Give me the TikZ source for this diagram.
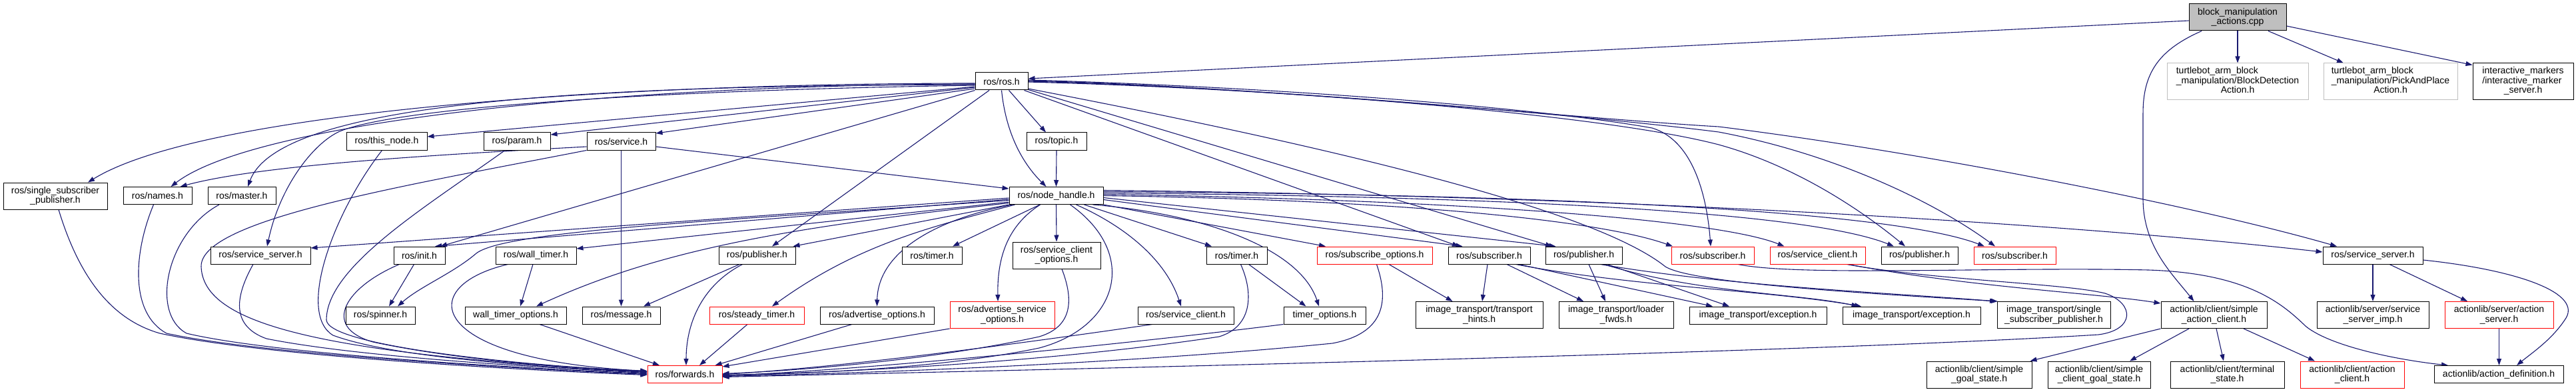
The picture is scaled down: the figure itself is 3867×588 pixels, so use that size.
\documentclass[tikz,border=0pt]{standalone}
\usepackage{fontspec}
\setmainfont{Liberation Sans}
\usetikzlibrary{arrows.meta}
\definecolor{edgeblue}{HTML}{191970}
\definecolor{redb}{HTML}{FF0000}
\definecolor{greyb}{HTML}{BFBFBF}
\pgfdeclarelayer{bg}
\pgfsetlayers{bg,main}
\tikzset{
  nd/.style={draw=black, line width=1pt, fill=white, inner sep=0pt, align=center,
    font=\fontsize{14}{14.5}\selectfont, minimum height=26pt},
  trunc/.style={nd, draw=redb},
  nodoc/.style={nd, draw=greyb},
  dep/.style={draw=edgeblue, line width=1.1pt, -{Triangle[length=10pt,width=7pt]}}
}
\begin{document}
\begin{tikzpicture}[x=1pt,y=-1pt]
\useasboundingbox (0,0) rectangle (3867,588);
% ---------- row 0/1
\node[nd,minimum width=146pt,minimum height=40pt,fill=greyb] (cpp) at (3359,26) {block\_manipulation\\\_actions.cpp};
\node[nodoc,minimum width=212pt,minimum height=55pt] (bd) at (3359,122.5) {\begin{tabular}{@{}l@{}}turtlebot\_arm\_block\\\_manipulation/BlockDetection\\\multicolumn{1}{@{}c@{}}{Action.h}\end{tabular}};
\node[nodoc,minimum width=201pt,minimum height=55pt] (pp) at (3588.5,122.5) {\begin{tabular}{@{}l@{}}turtlebot\_arm\_block\\\_manipulation/PickAndPlace\\\multicolumn{1}{@{}c@{}}{Action.h}\end{tabular}};
\node[nd,minimum width=151pt,minimum height=55pt] (im) at (3787.5,122.5) {\begin{tabular}{@{}l@{}}interactive\_markers\\/interactive\_marker\\\multicolumn{1}{@{}c@{}}{\_server.h}\end{tabular}};
\node[nd,minimum width=79pt] (ros) at (1503.5,122) {ros/ros.h};
% ---------- row 2
\node[nd,minimum width=121pt] (thisnode) at (580.5,212) {ros/this\_node.h};
\node[nd,minimum width=100pt] (param) at (776,212) {ros/param.h};
\node[nd,minimum width=103pt] (service) at (932.5,212) {ros/service.h};
\node[nd,minimum width=90pt] (topic) at (1586,212) {ros/topic.h};
% ---------- row 3
\node[nd,minimum width=156pt,minimum height=40pt] (ssp) at (83,294) {ros/single\_subscriber\\\_publisher.h};
\node[nd,minimum width=103pt] (names) at (236.5,293.5) {ros/names.h};
\node[nd,minimum width=102pt] (master) at (363,293.5) {ros/master.h};
\node[nd,minimum width=141pt] (nh) at (1585.5,293.5) {ros/node\_handle.h};
% ---------- row 4
\node[nd,minimum width=150pt] (ssl) at (391,383) {ros/service\_server.h};
\node[nd,minimum width=77pt] (init) at (629.5,383) {ros/init.h};
\node[nd,minimum width=121pt] (walltimer) at (804.5,383) {ros/wall\_timer.h};
\node[nd,minimum width=115pt] (pub1) at (1136.5,383) {ros/publisher.h};
\node[nd,minimum width=90pt] (timer1) at (1399,383) {ros/timer.h};
\node[nd,minimum width=132pt,minimum height=40pt] (sco) at (1586,383) {ros/service\_client\\\_options.h};
\node[nd,minimum width=91pt] (timer2) at (1856.5,383) {ros/timer.h};
\node[trunc,minimum width=173pt] (subopts) at (2063.5,383) {ros/subscribe\_options.h};
\node[nd,minimum width=123pt] (sub1) at (2235.5,383) {ros/subscriber.h};
\node[nd,minimum width=115pt] (pub2) at (2377.5,383) {ros/publisher.h};
\node[trunc,minimum width=124pt] (sub2) at (2571,383) {ros/subscriber.h};
\node[trunc,minimum width=143pt] (scr) at (2728.5,383) {ros/service\_client.h};
\node[nd,minimum width=115pt] (pub3) at (2881.5,383) {ros/publisher.h};
\node[trunc,minimum width=123pt] (sub3) at (3024.5,383) {ros/subscriber.h};
\node[nd,minimum width=150pt] (ssr) at (3562,383) {ros/service\_server.h};
% ---------- row 5
\node[nd,minimum width=104pt] (spinner) at (571,473) {ros/spinner.h};
\node[nd,minimum width=152pt] (wto) at (774,473) {wall\_timer\_options.h};
\node[nd,minimum width=117pt] (message) at (932.5,473) {ros/message.h};
\node[trunc,minimum width=142pt] (steady) at (1136,473) {ros/steady\_timer.h};
\node[nd,minimum width=171pt] (advopts) at (1316.5,473) {ros/advertise\_options.h};
\node[trunc,minimum width=157pt,minimum height=40pt] (aso) at (1504.5,472.5) {ros/advertise\_service\\\_options.h};
\node[nd,minimum width=144pt] (scb) at (1780,473) {ros/service\_client.h};
\node[nd,minimum width=123pt] (tops) at (1988.5,473) {timer\_options.h};
\node[nd,minimum width=191pt,minimum height=40pt] (hints) at (2220.5,472.5) {image\_transport/transport\\\_hints.h};
\node[nd,minimum width=172pt,minimum height=40pt] (loader) at (2426,472.5) {image\_transport/loader\\\_fwds.h};
\node[nd,minimum width=206pt] (exc1) at (2639,473) {image\_transport/exception.h};
\node[nd,minimum width=207pt] (exc2) at (2869.5,473) {image\_transport/exception.h};
\node[nd,minimum width=170pt,minimum height=40pt] (itssp) at (3083,472.5) {image\_transport/single\\\_subscriber\_publisher.h};
\node[nd,minimum width=159pt,minimum height=40pt] (sac) at (3323.5,472.5) {actionlib/client/simple\\\_action\_client.h};
\node[nd,minimum width=168pt,minimum height=40pt] (ssimp) at (3562,472.5) {actionlib/server/service\\\_server\_imp.h};
\node[trunc,minimum width=163pt,minimum height=40pt] (asrv) at (3751.5,472.5) {actionlib/server/action\\\_server.h};
% ---------- row 6
\node[trunc,minimum width=112pt] (fwd) at (1028,561.5) {ros/forwards.h};
\node[nd,minimum width=158pt,minimum height=40pt] (sgs) at (2971,562) {actionlib/client/simple\\\_goal\_state.h};
\node[nd,minimum width=154pt,minimum height=40pt] (scgs) at (3151,562) {actionlib/client/simple\\\_client\_goal\_state.h};
\node[nd,minimum width=171pt,minimum height=40pt] (ts) at (3343.5,562) {actionlib/client/terminal\\\_state.h};
\node[trunc,minimum width=156pt,minimum height=40pt] (ac) at (3531,562) {actionlib/client/action\\\_client.h};
\node[nd,minimum width=194pt] (ad) at (3751,561.5) {actionlib/action\_definition.h};

\begin{pgfonlayer}{bg}
% cpp
\draw[dep] ([yshift=-5pt]cpp.west) -- ([yshift=4pt]ros.east);
\draw[dep] (cpp.south) -- (bd.north);
\draw[dep] ([xshift=46pt]cpp.south) -- ([xshift=-70.5pt]pp.north);
\draw[dep] ([yshift=-13pt]cpp.east) -- ([yshift=-3pt]im.north west);
\draw[dep] ([xshift=-54pt]cpp.south) .. controls (3240,75) and (3217,110) .. (3217,170) -- (3217,300) .. controls (3218,370) and (3260,410) .. ([xshift=-30pt]sac.north);
% ros.h left
\draw[dep] ([yshift=-8pt]ros.west) -- ([yshift=7pt]thisnode.east);
\draw[dep] ([yshift=-9pt]ros.west) -- ([yshift=10pt]param.east);
\draw[dep] ([yshift=-11pt]ros.west) -- ([yshift=12pt]service.east);
\draw[dep] ([xshift=11pt]ros.south) -- ([xshift=-16pt]topic.north);
\draw[dep] (ros.south) .. controls (1510,200) and (1535,245) .. ([xshift=-15pt]nh.north);
\draw[dep] ([yshift=-3pt]ros.west) .. controls (900,125) and (300,170) .. ([xshift=49pt]ssp.north);
\draw[dep] ([yshift=-4pt]ros.west) .. controls (900,128) and (380,185) .. ([xshift=20pt]names.north);
\draw[dep] ([yshift=-5pt]ros.west) .. controls (900,128) and (420,150) .. ([xshift=9pt]master.north);
\draw[dep] ([yshift=-6pt]ros.west) .. controls (1000,135) and (600,160) .. (510,197) .. controls (470,215) and (420,280) .. ([xshift=10pt]ssl.north);
\draw[dep] (ros.south west) -- ([xshift=31.5pt]init.north);
\draw[dep] ([xshift=-18.5pt]ros.south) -- ([xshift=22.5pt]pub1.north);
% ros.h right
\draw[dep] ([xshift=-6pt]ros.south east) -- ([xshift=-45.5pt]sub1.north);
\draw[dep] ([yshift=1pt]ros.south east) -- ([xshift=-47.5pt]pub2.north);
\draw[dep] ([yshift=-11pt]ros.east) .. controls (2050,230) and (2400,320) .. (2500,400) .. controls (2540,425) and (2800,440) .. ([xshift=-84pt]itssp.north);
\draw[dep] ([yshift=2pt]ros.east) .. controls (1900,130) and (2300,160) .. (2480,192) .. controls (2540,210) and (2562,290) .. ([xshift=-3pt]sub2.north);
\draw[dep] ([yshift=-1pt]ros.east) .. controls (1900,132) and (2400,170) .. (2580,217) .. controls (2700,250) and (2800,320) .. ([xshift=-21.5pt]pub3.north);
\draw[dep] (ros.east) .. controls (1900,131) and (2400,175) .. (2580,198) .. controls (2750,230) and (2900,300) .. ([xshift=-29.5pt]sub3.north);
\draw[dep] ([yshift=1pt]ros.east) .. controls (1900,130) and (2400,180) .. (2580,190) .. controls (2900,230) and (3300,310) .. ([xshift=-54pt]ssr.north);
% node_handle.h left
\draw[dep] ([yshift=-3.5pt]nh.west) -- ([yshift=11pt]ssl.east);
\draw[dep] ([yshift=-5.5pt]nh.west) -- ([xshift=23.5pt]init.north);
\draw[dep] ([yshift=-7pt]nh.west) .. controls (1100,330) and (760,345) .. (715,380) .. controls (680,410) and (630,430) .. ([xshift=26pt]spinner.north);
\draw[dep] ([yshift=-9.5pt]nh.west) -- ([yshift=10pt]walltimer.east);
\draw[dep] ([yshift=-11pt]nh.west) .. controls (1200,340) and (1000,370) .. ([xshift=31pt]wto.north);
\draw[dep] (nh.south west) -- ([xshift=-4pt]pub1.north east);
\draw[dep] ([xshift=-62pt]nh.south) .. controls (1400,340) and (1290,365) .. ([xshift=23pt]steady.north);
\draw[dep] ([xshift=-24.5pt]nh.south) -- ([xshift=31pt]timer1.north);
\draw[dep] ([xshift=5pt]nh.south west) .. controls (1400,330) and (1318,380) .. (advopts.north);
\draw[dep] ([xshift=-24pt]nh.south) .. controls (1510,340) and (1497,390) .. ([xshift=-6.5pt]aso.north);
\draw[dep] (nh.south) -- (sco.north);
\draw[dep] ([xshift=21pt]nh.south) .. controls (1710,380) and (1680,490) .. (1560,522) .. controls (1400,555) and (1200,560) .. ([yshift=-2pt]fwd.east);
\draw[dep] ([xshift=30pt]nh.south) .. controls (1690,340) and (1750,390) .. ([xshift=-7pt]scb.north);
\draw[dep] ([xshift=42pt]nh.south) -- ([xshift=-37.5pt]timer2.north);
\draw[dep] ([xshift=55pt]nh.south) .. controls (1800,320) and (1950,370) .. ([xshift=-8.5pt]tops.north);
% node_handle.h right
\draw[dep] (nh.south east) -- ([xshift=-73.5pt]subopts.north);
\draw[dep] ([yshift=-6pt]nh.east) -- ([xshift=-40pt]sub1.north);
\draw[dep] ([yshift=-3pt]nh.east) -- ([xshift=-42pt]pub2.north);
\draw[dep] (nh.east) .. controls (2100,300) and (2400,330) .. ([xshift=-60pt]sub2.north);
\draw[dep] ([yshift=2pt]nh.east) .. controls (2200,300) and (2580,330) .. ([xshift=-50pt]scr.north);
\draw[dep] ([yshift=4pt]nh.east) .. controls (2300,295) and (2720,320) .. ([xshift=-38.5pt]pub3.north);
\draw[dep] ([yshift=6pt]nh.east) .. controls (2400,292) and (2850,320) .. ([xshift=-45.5pt]sub3.north);
\draw[dep] ([yshift=8pt]nh.east) .. controls (2500,295) and (3150,340) .. ([yshift=5pt]ssr.west);
% service.h, topic.h
\draw[dep] ([yshift=-8pt]service.west) .. controls (700,230) and (400,245) .. ([xshift=34pt]names.north);
\draw[dep] (service.south west) .. controls (600,280) and (300,330) .. (302,400) .. controls (305,480) and (450,530) .. ([yshift=4pt]fwd.west);
\draw[dep] (service.south) -- (message.north);
\draw[dep] ([yshift=-8pt]service.east) -- ([yshift=-3pt]nh.north west);
\draw[dep] (topic.south) -- (nh.north);
% into forwards.h from the left
\draw[dep] ([xshift=-7pt]thisnode.south) .. controls (500,320) and (445,470) .. (500,503) .. controls (600,540) and (850,552) .. ([yshift=3pt]fwd.west);
\draw[dep] ([xshift=-18pt]param.south) .. controls (640,310) and (490,400) .. (490,480) .. controls (492,520) and (800,550) .. ([yshift=5pt]fwd.west);
\draw[dep] ([xshift=5pt]ssp.south) .. controls (120,420) and (170,480) .. (240,500) .. controls (400,535) and (800,556) .. ([yshift=-1pt]fwd.west);
\draw[dep] ([xshift=-6pt]names.south) .. controls (200,380) and (195,470) .. (250,500) .. controls (400,533) and (800,554) .. (fwd.west);
\draw[dep] ([xshift=-34pt]master.south) .. controls (250,350) and (225,470) .. (280,500) .. controls (420,533) and (800,553) .. ([yshift=1pt]fwd.west);
\draw[dep] ([xshift=-11pt]ssl.south) .. controls (350,450) and (350,490) .. (400,508) .. controls (550,538) and (850,553) .. ([yshift=2pt]fwd.west);
\draw[dep] ([xshift=-30pt]init.south) .. controls (520,430) and (480,490) .. (560,513) .. controls (700,543) and (880,553) .. ([yshift=4pt]fwd.west);
\draw[dep] ([xshift=-8pt]init.south) -- ([xshift=13pt]spinner.north);
\draw[dep] ([xshift=-4.5pt]walltimer.south) -- ([xshift=7pt]wto.north);
\draw[dep] ([xshift=-42pt]walltimer.south) .. controls (620,430) and (640,540) .. ([yshift=5pt]fwd.west);
\draw[dep] ([xshift=36pt]wto.south) -- ([xshift=-38pt]fwd.north);
\draw[dep] ([xshift=-26.5pt]pub1.south) -- ([xshift=33.5pt]message.north);
\draw[dep] ([xshift=-22pt]pub1.south) .. controls (1050,430) and (1030,490) .. ([xshift=2pt]fwd.north);
\draw[dep] ([xshift=-14pt]steady.south) -- ([xshift=22pt]fwd.north);
\draw[dep] ([xshift=-37.5pt]advopts.south) -- ([xshift=-11pt]fwd.north east);
\draw[dep] (aso.south west) -- ([yshift=-2pt]fwd.north east);
% into forwards.h from the right
\draw[dep] ([xshift=8pt]sco.south) .. controls (1612,450) and (1610,490) .. (1560,505) .. controls (1400,540) and (1200,556) .. ([yshift=1pt]fwd.east);
\draw[dep] ([xshift=-50pt]scb.south) .. controls (1500,520) and (1250,552) .. (fwd.east);
\draw[dep] ([xshift=18pt]timer2.south) -- ([xshift=-28pt]tops.north);
\draw[dep] ([xshift=6pt]timer2.south) .. controls (1882,440) and (1880,490) .. (1830,505) .. controls (1600,540) and (1300,558) .. ([yshift=-1pt]fwd.east);
\draw[dep] (tops.south west) .. controls (1700,515) and (1300,555) .. ([yshift=-2pt]fwd.east);
\draw[dep] ([xshift=21.5pt]subopts.south) -- ([xshift=-40pt]hints.north);
\draw[dep] ([xshift=3pt]subopts.south) .. controls (2085,450) and (2080,500) .. (2000,515) .. controls (1700,545) and (1300,560) .. ([yshift=-3pt]fwd.east);
% image_transport
\draw[dep] ([xshift=-2.5pt]sub1.south) -- ([xshift=4.5pt]hints.north);
\draw[dep] ([xshift=26.5pt]sub1.south) -- ([xshift=-49pt]loader.north);
\draw[dep] ([xshift=44.5pt]sub1.south) -- ([xshift=-68pt]exc1.north);
\draw[dep] ([xshift=40pt]sub1.south) .. controls (2450,430) and (2650,435) .. ([xshift=-75.5pt]exc2.north);
\draw[dep] ([xshift=7.5pt]pub2.south) -- ([xshift=-16pt]loader.north);
\draw[dep] ([xshift=35pt]pub2.south) -- ([xshift=-43pt]exc1.north);
\draw[dep] ([xshift=30pt]pub2.south) .. controls (2550,440) and (2700,440) .. ([xshift=-80pt]exc2.north);
\draw[dep] ([xshift=25pt]pub2.south) .. controls (2600,430) and (2850,440) .. ([xshift=-86pt]itssp.north);
% long ones on the right
\draw[dep] ([xshift=38pt]sub2.south) .. controls (2700,415) and (3000,400) .. (3225,405) .. controls (3380,410) and (3430,460) .. (3462,490) .. controls (3500,520) and (3600,540) .. ([xshift=-76pt]ad.north);
\draw[dep] ([xshift=44pt]scr.south) .. controls (2900,420) and (3100,425) .. (3160,440) .. controls (3205,455) and (3205,495) .. (3150,502) .. controls (2700,530) and (1500,556) .. ([yshift=-4pt]fwd.east);
\draw[dep] ([xshift=46pt]scr.south) .. controls (2950,430) and (3150,440) .. ([yshift=-3pt]sac.north west);
% actionlib
\draw[dep] (sac.south west) -- ([xshift=-3pt]sgs.north east);
\draw[dep] ([xshift=-37.5pt]sac.south) -- ([xshift=46pt]scgs.north);
\draw[dep] ([xshift=3.5pt]sac.south) -- ([xshift=-5.5pt]ts.north);
\draw[dep] ([xshift=44.5pt]sac.south) -- ([xshift=-56pt]ac.north);
\draw[dep] (ssr.south) -- (ssimp.north);
\draw[dep] ([xshift=25pt]ssr.south) -- ([xshift=-47.5pt]asrv.north);
\draw[dep] ([yshift=-7pt]ssr.east) .. controls (3780,405) and (3880,440) .. (3850,480) .. controls (3830,510) and (3800,530) .. ([xshift=27pt]ad.north);
\draw[dep] (asrv.south) -- ([xshift=0.5pt]ad.north);
\end{pgfonlayer}
\end{tikzpicture}
\end{document}
